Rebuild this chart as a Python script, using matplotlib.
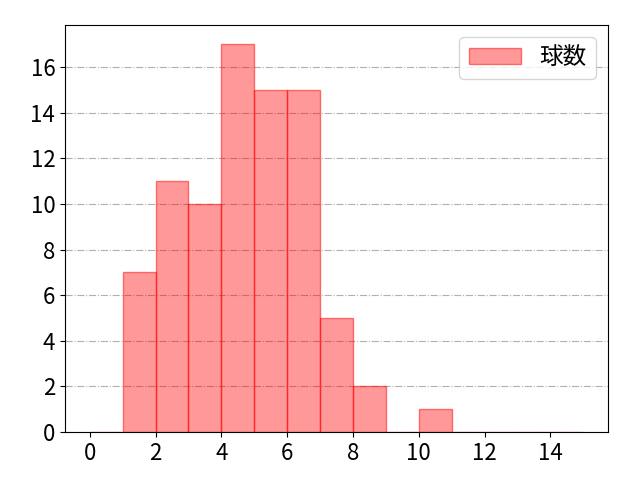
import numpy as np
import matplotlib
matplotlib.use('Agg')
import matplotlib.pyplot as plt

plt.rcParams['font.family'] = ['Noto Sans CJK JP', 'DejaVu Sans']

# histogram bins (left edges) and counts per bin
bin_edges = np.arange(0, 16)
counts = [0, 7, 11, 10, 17, 15, 15, 5, 2, 0, 1, 0, 0, 0, 0]
label = '球数'

fig, ax = plt.subplots(figsize=(6.4, 4.8), dpi=100)
ax.hist(bin_edges[:-1], bins=bin_edges, weights=counts,
        facecolor=(1, 0, 0, 0.4), edgecolor=(1, 0, 0, 0.5),
        linewidth=1, label=label, zorder=2)
ax.grid(axis='y', linestyle='-.', color='#b0b0b0', linewidth=0.8, zorder=0)
ax.set_axisbelow(True)
ax.set_xticks(np.arange(0, 15, 2))
ax.tick_params(labelsize=16)
ax.legend(fontsize=17, loc='upper right', handlelength=2.2)
fig.subplots_adjust(left=65 / 640, right=608 / 640, top=1 - 25 / 480, bottom=1 - 432 / 480)
fig.savefig('out.png')
